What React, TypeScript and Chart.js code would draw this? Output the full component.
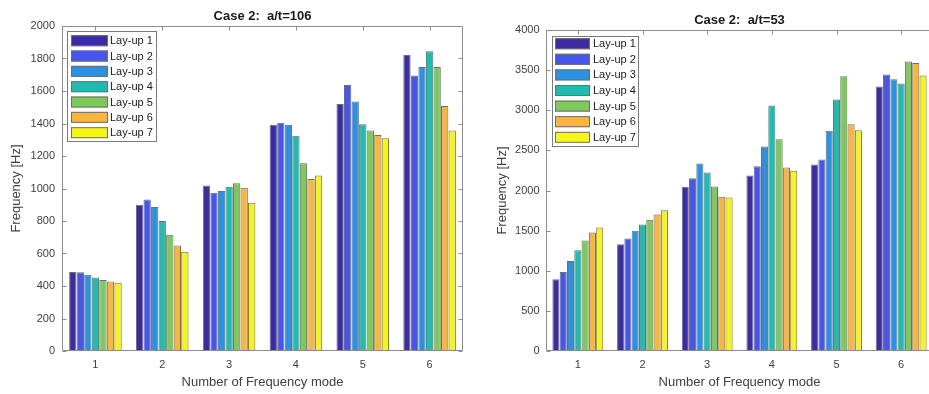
import React, { useEffect, useRef } from "react";
import { Chart, registerables } from "chart.js";
Chart.register(...registerables);

const modes = ["1", "2", "3", "4", "5", "6"];
const layups = ["Lay-up 1", "Lay-up 2", "Lay-up 3", "Lay-up 4", "Lay-up 5", "Lay-up 6", "Lay-up 7"];
const colors = ["#3b2ca6", "#4655f0", "#2a92e4", "#1ebdb2", "#7dc95a", "#fbb53c", "#f5f516"];

// Case 2: a/t=106
const a106L1 = [486, 900, 1019, 1392, 1520, 1822];
const a106L2 = [484, 933, 974, 1404, 1637, 1696];
const a106L3 = [470, 886, 985, 1392, 1535, 1747];
const a106L4 = [453, 800, 1011, 1324, 1396, 1845];
const a106L5 = [437, 716, 1032, 1155, 1357, 1747];
const a106L6 = [427, 650, 1005, 1059, 1329, 1508];
const a106L7 = [420, 611, 913, 1080, 1310, 1357];

// Case 2: a/t=53
const a53L1 = [894, 1331, 2046, 2187, 2324, 3295];
const a53L2 = [985, 1401, 2154, 2303, 2386, 3444];
const a53L3 = [1123, 1497, 2336, 2548, 2743, 3386];
const a53L4 = [1256, 1576, 2224, 3058, 3133, 3332];
const a53L5 = [1376, 1634, 2050, 2639, 3423, 3606];
const a53L6 = [1476, 1701, 1921, 2286, 2826, 3589];
const a53L7 = [1538, 1755, 1913, 2245, 2751, 3432];

const FONT = "'Liberation Sans', Arial, Helvetica, sans-serif";

const framePlugin = {
  id: "frame",
  afterDraw(chart: any, _args: any, opts: any) {
    const { ctx, chartArea: a, scales } = chart;
    ctx.save();
    ctx.strokeStyle = "#8c8c8c";
    ctx.lineWidth = 1;
    const L = Math.round(a.left) + 0.5;
    const R = Math.round(a.right) - 0.5;
    const T = Math.round(a.top) + 0.5;
    const B = Math.round(a.bottom) - 0.5;
    ctx.beginPath();
    ctx.moveTo(L, T);
    ctx.lineTo(R, T);
    ctx.lineTo(R, B);
    ctx.lineTo(L, B);
    ctx.closePath();
    const tl = 4;
    scales.y.ticks.forEach((_t: any, i: number) => {
      const y = Math.round(scales.y.getPixelForTick(i)) + 0.5;
      ctx.moveTo(L, y);
      ctx.lineTo(L + tl, y);
      ctx.moveTo(R, y);
      ctx.lineTo(R - tl, y);
    });
    scales.x.ticks.forEach((_t: any, i: number) => {
      const x = Math.round(scales.x.getPixelForTick(i)) + 0.5;
      ctx.moveTo(x, B);
      ctx.lineTo(x, B - tl);
      ctx.moveTo(x, T);
      ctx.lineTo(x, T + tl);
    });
    ctx.stroke();

    // title
    ctx.fillStyle = "#1a1a1a";
    ctx.font = `bold 13px ${FONT}`;
    ctx.textAlign = "center";
    ctx.textBaseline = "middle";
    ctx.fillText(opts.title, (a.left + a.right) / 2, opts.titleY);

    // legend
    const lg = opts.legend;
    ctx.fillStyle = "#ffffff";
    ctx.fillRect(lg.x, lg.y, lg.w, lg.h);
    ctx.strokeStyle = "#7a7a7a";
    ctx.strokeRect(lg.x + 0.5, lg.y + 0.5, lg.w - 1, lg.h - 1);
    ctx.font = `${lg.fontSize}px ${FONT}`;
    ctx.textAlign = "left";
    ctx.textBaseline = "middle";
    chart.data.datasets.forEach((ds: any, i: number) => {
      const cy = lg.row0 + i * lg.rowH;
      ctx.fillStyle = ds.backgroundColor;
      ctx.fillRect(lg.sx, cy - 5.5, lg.sw, 11);
      ctx.strokeStyle = "#6e6e6e";
      ctx.strokeRect(lg.sx + 0.5, cy - 5.5 + 0.5, lg.sw - 1, 10);
      ctx.fillStyle = "#1a1a1a";
      ctx.fillText(ds.label, lg.tx, cy + 0.5);
    });
    ctx.restore();
  },
};

type Props = {
  series: number[][];
  yMax: number;
  yStep: number;
  title: string;
  titleY: number;
  area: { left: number; right: number; top: number; bottom: number };
  width: number;
  height: number;
  yTitlePad: number;
  yTickPad: number;
  legend: any;
};

function BarChart(p: Props) {
  const ref = useRef<HTMLCanvasElement>(null);
  useEffect(() => {
    const canvas = ref.current!;
    const chart = new Chart(canvas, {
      type: "bar",
      data: {
        labels: modes,
        datasets: p.series.map((d, i) => ({
          label: layups[i],
          data: d,
          backgroundColor: colors[i],
          borderColor: "#6e6e6e",
          borderWidth: 1,
          borderSkipped: "bottom",
          categoryPercentage: 0.79,
          barPercentage: 0.97,
        })),
      },
      options: {
        animation: false,
        responsive: false,
        devicePixelRatio: 1,
        layout: {
          padding: { left: 0, top: p.area.top, right: p.width - p.area.right, bottom: 0 },
        },
        plugins: {
          legend: { display: false },
          title: { display: false },
          tooltip: { enabled: false },
          frame: { title: p.title, titleY: p.titleY, legend: p.legend },
        } as any,
        scales: {
          x: {
            grid: { display: false, drawTicks: false },
            border: { display: false },
            ticks: { color: "#404040", font: { family: FONT, size: 11 }, padding: 7 },
            title: {
              display: true,
              text: "Number of Frequency mode",
              color: "#404040",
              font: { family: FONT, size: 13 },
              padding: { top: 0, bottom: 4 },
            },
            afterFit: (s: any) => {
              s.height = p.height - p.area.bottom;
            },
          },
          y: {
            min: 0,
            max: p.yMax,
            grid: { display: false, drawTicks: false },
            border: { display: false },
            ticks: {
              stepSize: p.yStep,
              color: "#404040",
              font: { family: FONT, size: 11 },
              padding: p.yTickPad,
              callback: (v: any) => String(v),
            },
            title: {
              display: true,
              text: "Frequency [Hz]",
              color: "#404040",
              font: { family: FONT, size: 13 },
              padding: { top: p.yTitlePad, bottom: 0 },
            },
            afterFit: (s: any) => {
              s.width = p.area.left;
            },
          },
        },
      },
      plugins: [framePlugin],
    });
    return () => chart.destroy();
  }, []);
  return <canvas ref={ref} width={p.width} height={p.height} style={{ width: p.width, height: p.height, display: "block" }} />;
}

export default function App() {
  return (
    <div
      style={{
        position: "fixed",
        left: 0,
        top: 0,
        width: 929,
        height: 394,
        overflow: "hidden",
        background: "#ffffff",
      }}
    >
      <div style={{ position: "absolute", left: 0, top: 0 }}>
        <BarChart
          series={[a106L1, a106L2, a106L3, a106L4, a106L5, a106L6, a106L7]}
          yMax={2000}
          yStep={200}
          title="Case 2:  a/t=106"
          titleY={16}
          area={{ left: 62, right: 463, top: 26, bottom: 351 }}
          width={470}
          height={394}
          yTitlePad={9}
          yTickPad={7}
          legend={{ x: 67, y: 31, w: 90, h: 111, sx: 71, sw: 37, tx: 110, row0: 40.7, rowH: 15.33, fontSize: 11 }}
        />
      </div>
      <div style={{ position: "absolute", left: 470, top: 0 }}>
        <BarChart
          series={[a53L1, a53L2, a53L3, a53L4, a53L5, a53L6, a53L7]}
          yMax={4000}
          yStep={500}
          title="Case 2:  a/t=53"
          titleY={20}
          area={{ left: 75.5, right: 463.5, top: 30, bottom: 351 }}
          width={470}
          height={394}
          yTitlePad={25}
          yTickPad={6}
          legend={{ x: 82, y: 36, w: 87, h: 111, sx: 85, sw: 35, tx: 123, row0: 43.7, rowH: 15.6, fontSize: 11 }}
        />
      </div>
    </div>
  );
}
